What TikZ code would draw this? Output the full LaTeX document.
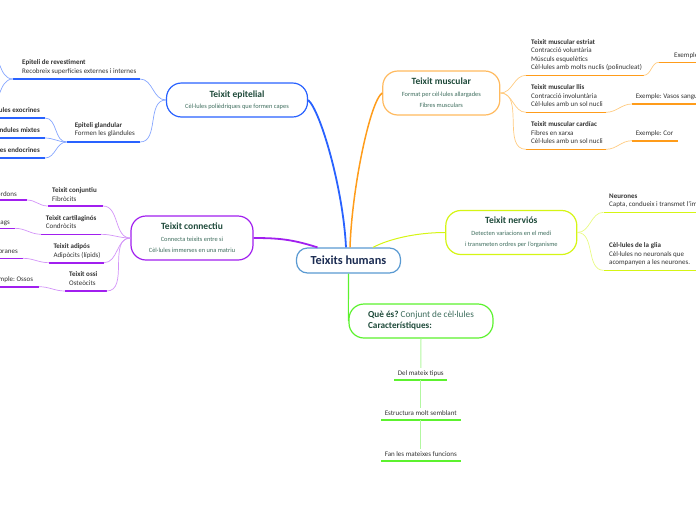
\documentclass[tikz,border=0pt]{standalone}
\usepackage{fontspec}
\setmainfont{Carlito}
\usetikzlibrary{positioning}
\frenchspacing

\definecolor{EpiBlue}{HTML}{2962FF}
\definecolor{EpiLight}{HTML}{86A6FF}
\definecolor{MusOrange}{HTML}{FF9C1A}
\definecolor{MusLight}{HTML}{FFCB80}
\definecolor{ConPurple}{HTML}{A11FEF}
\definecolor{ConLight}{HTML}{D394F8}
\definecolor{NerYellow}{HTML}{D5F514}
\definecolor{NerLight}{HTML}{E8FA82}
\definecolor{QueGreen}{HTML}{5CF22E}
\definecolor{QueLight}{HTML}{B2F7A0}
\definecolor{HumBlue}{HTML}{5A9AD2}
\definecolor{HumText}{HTML}{1B2C52}
\definecolor{HeadGreen}{HTML}{1E4A3A}
\definecolor{SubGreen}{HTML}{3F6E5E}

\newcommand{\boxhead}[1]{{\bfseries\fontsize{9.5}{10}\selectfont\color{HeadGreen}#1}}
\newcommand{\boxsub}[1]{{\fontsize{6.4}{7}\selectfont\color{SubGreen}#1}}

\begin{document}
\begin{tikzpicture}[
    x=1pt, y=-1pt,
    box/.style={draw, fill=white, line width=1.2pt, rounded corners=15pt, align=center, inner sep=0pt, font=\fontsize{6}{11.5}\selectfont},
    item/.style={anchor=base west, inner sep=0pt, align=left, font=\fontsize{7}{8.4}\selectfont, text=black!80},
    itemr/.style={item, anchor=base east},
    itemc/.style={item, anchor=base, align=center},
    uline/.style={line width=1.6pt},
    twig/.style={line width=0.7pt}
]
    \useasboundingbox (0,0) rectangle (696,520);
    \clip (0,0) rectangle (696,520);

    % --- main boxes ---
    \node[box, draw=HumBlue, rounded corners=11pt, minimum width=104pt, minimum height=25pt,
          font=\bfseries\fontsize{12.3}{13}\selectfont, text=HumText] (hum) at (348.5,260.5) {Teixits humans};
    \node[box, draw=EpiBlue, minimum width=141pt, minimum height=34pt] (epi) at (237,100)
        {\boxhead{Teixit epitelial}\\\boxsub{Cèl·lules polièdriques que formen capes}};
    \node[box, draw=MusOrange!70, minimum width=117pt, minimum height=44pt] (mus) at (441.3,93)
        {\boxhead{Teixit muscular}\\\boxsub{Format per cèl·lules allargades}\\\boxsub{Fibres musculars}};
    \node[box, draw=ConPurple, minimum width=122pt, minimum height=44pt] (con) at (192,238)
        {\boxhead{Teixit connectiu}\\\boxsub{Connecta teixits entre si}\\\boxsub{Cèl·lules immerses en una matriu}};
    \node[box, draw=NerYellow, minimum width=131pt, minimum height=44pt] (ner) at (511.3,232.5)
        {\boxhead{Teixit nerviós}\\\boxsub{Detecten variacions en el medi}\\\boxsub{i transmeten ordres per l'organisme}};
    \node[box, draw=QueGreen, minimum width=144pt, minimum height=34pt, align=left,
          font=\fontsize{9.2}{11}\selectfont, text=SubGreen] (que) at (421,321)
        {{\bfseries\color{HeadGreen}Què és?} Conjunt de cèl·lules\\{\bfseries\color{HeadGreen}Característiques:}};

    % --- arms from the centre ---
    \draw[EpiBlue, line width=1.8pt] (epi.east) .. controls +(12,10) and +(-3,-60) .. ([xshift=-2.5pt]hum.north);
    \draw[MusOrange, line width=1.5pt] (mus.west) .. controls +(-12,8) and +(2,-60) .. ([xshift=1.5pt]hum.north);
    \draw[ConPurple, line width=1.8pt] (con.east) .. controls +(25,0) and +(-25,-8) .. ([xshift=-31pt]hum.north);
    \draw[NerYellow, line width=1pt] (ner.west) .. controls +(-30,0) and +(15,-8) .. ([xshift=24.5pt]hum.north);
    \draw[QueGreen, line width=1.1pt] (hum.south) -- (que.west);

    % --- Teixit epitelial ---
    \node[item] (rev) at (22,73) {{\bfseries Epiteli de revestiment}\\Recobreix superfícies externes i internes};
    \node[item] (gla) at (74.6,135.7) {{\bfseries Epiteli glandular}\\Formen les glàndules};
    \node[itemr, font=\bfseries\fontsize{7}{8.4}\selectfont] (exo) at (40,112) {Glàndules exocrines};
    \node[itemr, font=\bfseries\fontsize{7}{8.4}\selectfont] (mix) at (40,132) {Glàndules mixtes};
    \node[itemr, font=\bfseries\fontsize{7}{8.4}\selectfont] (endo) at (40,152) {Glàndules endocrines};
    \coordinate (rev-l) at (13,79);   \coordinate (rev-r) at (140,79);
    \coordinate (gla-l) at (66.6,142); \coordinate (gla-r) at (140,142);
    \coordinate (exo-l) at (-40,118); \coordinate (exo-r) at (45,118);
    \coordinate (mix-l) at (-40,138); \coordinate (mix-r) at (45,138);
    \coordinate (endo-l) at (-40,158); \coordinate (endo-r) at (45,158);
    \coordinate (rev-up) at (-14,50); \coordinate (rev-dn) at (-14,108);
    \foreach \u in {rev,gla,exo,mix,endo}
        \draw[uline, EpiBlue] (\u-l) -- (\u-r);
    \draw[twig, EpiLight] (epi.west) to[out=180,in=0] (rev-r);
    \draw[twig, EpiLight] (epi.west) to[out=180,in=0] (gla-r);
    \foreach \u in {exo,mix,endo}
        \draw[twig, EpiLight] (gla-l) to[out=180,in=0] (\u-r);
    \draw[twig, EpiLight] (rev-l) to[out=180,in=0] (rev-up);
    \draw[twig, EpiLight] (rev-l) to[out=180,in=0] (rev-dn);

    % --- Teixit connectiu ---
    \node[item] (conj) at (52,201) {{\bfseries Teixit conjuntiu}\\Fibròcits};
    \node[item] (cart) at (45.7,228.7) {{\bfseries Teixit cartilaginós}\\Condròcits};
    \node[item] (adip) at (53.3,257.3) {{\bfseries Teixit adipós}\\Adipòcits (lípids)};
    \node[item] (ossi) at (69,285.3) {{\bfseries Teixit ossi}\\Osteòcits};
    \node[itemr] (conjx) at (17,196) {Exemple: Tendons i cordons};
    \node[itemr] (cartx) at (10,224.7) {Exemple: Cartílags};
    \node[itemr] (adipx) at (18,253) {Exemple: Membranes};
    \node[itemr] (ossix) at (33.3,281.3) {Exemple: Ossos};
    \coordinate (conj-l) at (47.7,206);  \coordinate (conj-r) at (103,206);
    \coordinate (cart-l) at (41,234.3);  \coordinate (cart-r) at (101,234.3);
    \coordinate (adip-l) at (49,262.7);  \coordinate (adip-r) at (104,262.7);
    \coordinate (ossi-l) at (65,291);    \coordinate (ossi-r) at (106.7,291);
    \coordinate (conjx-l) at (-60,200);  \coordinate (conjx-r) at (27,200);
    \coordinate (cartx-l) at (-60,228.3); \coordinate (cartx-r) at (15,228.3);
    \coordinate (adipx-l) at (-60,258.3); \coordinate (adipx-r) at (23,258.3);
    \coordinate (ossix-l) at (-60,286.7); \coordinate (ossix-r) at (39,286.7);
    \foreach \u in {conj,cart,adip,ossi} {
        \draw[uline, ConPurple] (\u-l) -- (\u-r);
        \draw[uline, ConPurple] (\u x-l) -- (\u x-r);
        \draw[twig, ConLight] (con.west) to[out=180,in=0] (\u-r);
        \draw[twig, ConLight] (\u-l) to[out=180,in=0] (\u x-r);
    }

    % --- Teixit muscular ---
    \node[item] (estr) at (531,69.7) {{\bfseries Teixit muscular estriat}\\Contracció voluntària\\Músculs esquelètics\\Cèl·lules amb molts nuclis (polinucleat)};
    \node[item] (llis) at (531,106.7) {{\bfseries Teixit muscular llis}\\Contracció involuntària\\Cèl·lules amb un sol nucli};
    \node[item] (card) at (531,143.7) {{\bfseries Teixit muscular cardíac}\\Fibres en xarxa\\Cèl·lules amb un sol nucli};
    \node[item] (estrx) at (674,57.7) {Exemple: Bíceps};
    \node[item] (llisx) at (635.6,98.7) {Exemple: Vasos sanguinis};
    \node[item] (cardx) at (635.6,135.7) {Exemple: Cor};
    \coordinate (estr-l) at (526,75.3);  \coordinate (estr-r) at (643.6,75.3);
    \coordinate (llis-l) at (526,112.3); \coordinate (llis-r) at (606,112.3);
    \coordinate (card-l) at (526,149.3); \coordinate (card-r) at (606,149.3);
    \coordinate (estrx-l) at (659,62.3);  \coordinate (estrx-r) at (740,62.3);
    \coordinate (llisx-l) at (632,104);   \coordinate (llisx-r) at (740,104);
    \coordinate (cardx-l) at (632,140.7); \coordinate (cardx-r) at (677.8,140.7);
    \foreach \u in {estr,llis,card} {
        \draw[uline, MusOrange] (\u-l) -- (\u-r);
        \draw[uline, MusOrange] (\u x-l) -- (\u x-r);
        \draw[twig, MusLight] (mus.east) to[out=0,in=180] (\u-l);
        \draw[twig, MusLight] (\u-r) to[out=0,in=180] (\u x-l);
    }

    % --- Teixit nerviós ---
    \node[item] (neu) at (609,206.7) {{\bfseries Neurones}\\Capta, condueix i transmet l'impuls nerviós};
    \node[item] (glia) at (609,264.7) {{\bfseries Cèl·lules de la glia}\\Cèl·lules no neuronals que\\acompanyen a les neurones.};
    \coordinate (neu-l) at (603.6,212.3);  \coordinate (neu-r) at (740,212.3);
    \coordinate (glia-l) at (603.6,270.3); \coordinate (glia-r) at (740,270.3);
    \foreach \u in {neu,glia} {
        \draw[uline, NerYellow] (\u-l) -- (\u-r);
        \draw[twig, NerLight] (ner.east) to[out=0,in=180] (\u-l);
    }

    % --- Què és? ---
    \node[itemc] (t1) at (420.8,375) {Del mateix tipus};
    \node[itemc] (t2) at (420.8,415) {Estructura molt semblant};
    \node[itemc] (t3) at (420.8,456) {Fan les mateixes funcions};
    \coordinate (t1-l) at (394,380); \coordinate (t1-r) at (447,380); \coordinate (t1-c) at (420.8,380);
    \coordinate (t2-l) at (381,420); \coordinate (t2-r) at (461,420); \coordinate (t2-c) at (420.8,420);
    \coordinate (t3-l) at (381,461); \coordinate (t3-r) at (461,461);
    \foreach \u in {t1,t2,t3}
        \draw[uline, QueGreen] (\u-l) -- (\u-r);
    \draw[twig, QueLight, line width=1pt] (que.south) -- ([yshift=2pt]t1.north);
    \draw[twig, QueLight, line width=1pt] (t1-c) -- ([yshift=2pt]t2.north);
    \draw[twig, QueLight, line width=1pt] (t2-c) -- ([yshift=2pt]t3.north);
\end{tikzpicture}
\end{document}
